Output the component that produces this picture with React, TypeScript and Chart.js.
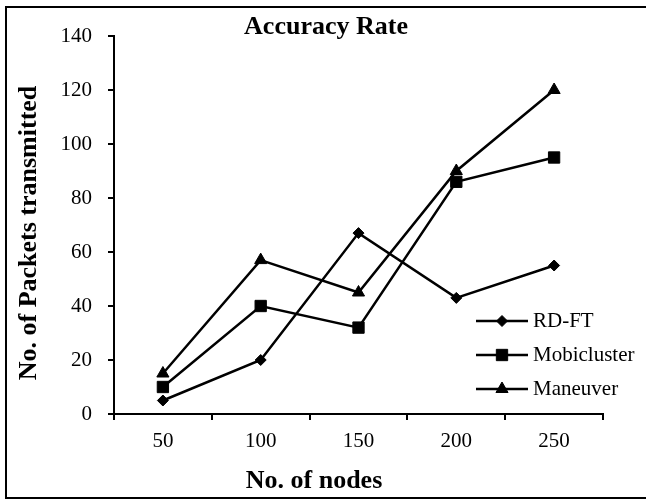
import React, { useEffect, useRef } from "react";
import { Chart, registerables } from "chart.js";

Chart.register(...registerables);

const categories = ["50", "100", "150", "200", "250"];
const rdft = [5, 20, 67, 43, 55];
const mobicluster = [10, 40, 32, 86, 95];
const maneuver = [15, 57, 45, 90, 120];
const seriesNames = ["RD-FT", "Mobicluster", "Maneuver"];
const chartTitle = "Accuracy Rate";
const xTitle = "No. of nodes";
const yTitle = "No. of Packets transmitted";

const FONT = '"Liberation Serif", "Times New Roman", serif';

function drawMarker(ctx: CanvasRenderingContext2D, style: string, x: number, y: number, r: number) {
  ctx.beginPath();
  if (style === "rectRot") {
    ctx.moveTo(x - r, y);
    ctx.lineTo(x, y - r);
    ctx.lineTo(x + r, y);
    ctx.lineTo(x, y + r);
  } else if (style === "rect") {
    const s = Math.SQRT1_2 * r;
    ctx.rect(x - s, y - s, 2 * s, 2 * s);
  } else {
    const a = (2 * Math.PI) / 3;
    ctx.moveTo(x, y - r);
    ctx.lineTo(x + Math.sin(a) * r, y - Math.cos(a) * r);
    ctx.lineTo(x - Math.sin(a) * r, y - Math.cos(a) * r);
  }
  ctx.closePath();
  ctx.fill();
  ctx.stroke();
}

const overlay = {
  id: "overlay",
  afterDraw(chart: any) {
    const ctx: CanvasRenderingContext2D = chart.ctx;
    ctx.save();
    // frame
    ctx.strokeStyle = "#000";
    ctx.lineWidth = 2;
    ctx.beginPath();
    ctx.moveTo(650, 7);
    ctx.lineTo(6, 7);
    ctx.lineTo(6, 498);
    ctx.lineTo(650, 498);
    ctx.stroke();

    ctx.fillStyle = "#000";
    ctx.font = `bold 26px ${FONT}`;
    ctx.textAlign = "center";
    ctx.textBaseline = "middle";
    ctx.fillText(chartTitle, 326, 27);
    ctx.fillText(xTitle, 314, 481);
    ctx.save();
    ctx.translate(29, 233);
    ctx.rotate(-Math.PI / 2);
    ctx.fillText(yTitle, 0, 0);
    ctx.restore();

    // legend
    const styles = ["rectRot", "rect", "triangle"];
    const radii = [5.5, 8, 7];
    const ys = [321, 355, 389];
    ctx.font = `21px ${FONT}`;
    ctx.textAlign = "left";
    for (let i = 0; i < 3; i++) {
      ctx.strokeStyle = "#000";
      ctx.lineWidth = 2.5;
      ctx.beginPath();
      ctx.moveTo(476, ys[i]);
      ctx.lineTo(528, ys[i]);
      ctx.stroke();
      ctx.lineWidth = 1;
      drawMarker(ctx, styles[i], 502, ys[i], radii[i]);
      ctx.fillText(seriesNames[i], 533, ys[i]);
    }
    ctx.restore();
  },
};

export default function App() {
  const ref = useRef<HTMLCanvasElement>(null);
  useEffect(() => {
    document.body.style.margin = "0";
    const ds = (label: string, data: number[], pointStyle: string, r: number) => ({
      label,
      data,
      borderColor: "#000",
      backgroundColor: "#000",
      borderWidth: 2.5,
      pointStyle,
      pointRadius: r,
      pointBorderWidth: 1,
      pointBackgroundColor: "#000",
      pointBorderColor: "#000",
      tension: 0,
    });
    const chart = new Chart(ref.current!, {
      type: "line",
      data: {
        labels: categories,
        datasets: [
          ds(seriesNames[0], rdft, "rectRot", 5.5),
          ds(seriesNames[1], mobicluster, "rect", 8),
          ds(seriesNames[2], maneuver, "triangle", 7),
        ],
      },
      options: {
        animation: false,
        responsive: false,
        devicePixelRatio: 1,
        layout: { padding: { left: 0, top: 36, right: 43, bottom: 0 } },
        plugins: { legend: { display: false }, title: { display: false }, tooltip: { enabled: false } },
        scales: {
          x: {
            offset: true,
            afterFit: (s: any) => { s.height = 86; },
            grid: { display: true, drawOnChartArea: false, drawTicks: true, tickLength: 6, offset: true, color: "#000", lineWidth: 2 },
            border: { display: true, color: "#000", width: 2 },
            ticks: { color: "#000", font: { family: FONT, size: 21 }, padding: 9, maxRotation: 0 },
          },
          y: {
            min: 0,
            max: 140,
            afterFit: (s: any) => { s.width = 114; },
            grid: { display: true, drawOnChartArea: false, drawTicks: true, tickLength: 6, color: "#000", lineWidth: 2 },
            border: { display: true, color: "#000", width: 2 },
            ticks: { stepSize: 20, color: "#000", font: { family: FONT, size: 21 }, padding: 16 },
          },
        },
      },
      plugins: [overlay],
    });
    return () => chart.destroy();
  }, []);
  return (
    <div style={{ width: 646, height: 500, background: "#fff" }}>
      <canvas ref={ref} width={646} height={500} />
    </div>
  );
}
